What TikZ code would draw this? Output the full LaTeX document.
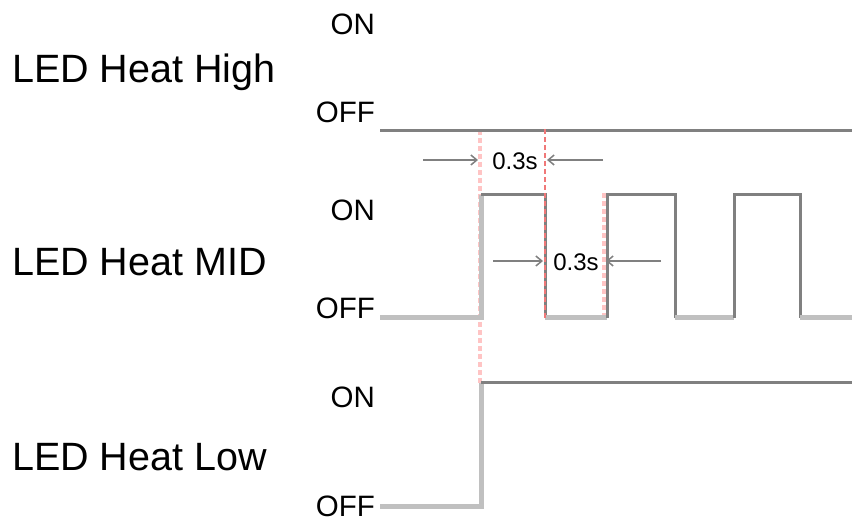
\documentclass[tikz,border=0pt]{standalone}
\usepackage{fontspec}
\setmainfont{Liberation Sans}
\usetikzlibrary{arrows.meta}
\definecolor{sigdark}{HTML}{808080}
\definecolor{siglight}{HTML}{C0C0C0}
\definecolor{pinkdash}{HTML}{FFC4C4}
\definecolor{reddash}{HTML}{F07878}
\begin{document}
\begin{tikzpicture}[x=1pt,y=-1pt,
  biglabel/.style={anchor=base west,inner sep=0pt,font=\fontsize{39.5}{39.5}\selectfont},
  statelabel/.style={anchor=base east,inner sep=0pt,font=\fontsize{29.5}{29.5}\selectfont},
  timelabel/.style={inner sep=0pt,font=\fontsize{24}{24}\selectfont},
  onl/.style={draw=sigdark,line width=3pt,line join=miter},
  offl/.style={draw=siglight,line width=5pt,line join=miter},
  pinkline/.style={draw=pinkdash,line width=3.5pt,dash pattern=on 5pt off 3pt},
  redline/.style={draw=reddash,line width=2pt,dash pattern=on 5pt off 3pt},
  dimarrow/.style={draw=sigdark,line width=2pt,-{Straight Barb[length=6pt,width=10pt,line width=1.5pt]}}]
\useasboundingbox (0,0) rectangle (852,521);
% labels
\node[biglabel] (lh) at (12,83) {LED Heat High};
\node[biglabel] (lm) at (12,276) {LED Heat MID};
\node[biglabel] (ll) at (12,471) {LED Heat Low};
\node[statelabel] (hon) at (375,35) {ON};
\node[statelabel] (hoff) at (375,123) {OFF};
\node[statelabel] (mon) at (375,221) {ON};
\node[statelabel] (moff) at (375,319) {OFF};
\node[statelabel] (lon) at (375,407) {ON};
\node[statelabel] (loff) at (375,516) {OFF};
% coordinates
\coordinate (a1) at (480,130);
\coordinate (a2) at (480,383);
\coordinate (c1) at (604,193);
\coordinate (c2) at (604,320);
\coordinate (b1) at (545,129);
\coordinate (b2) at (545,320);
% pink dashed guides
\draw[pinkline] (a1) -- (a2);
\draw[pinkline] (c1) -- (c2);
% High
\draw[onl] (380,131) -- (852,131);
% MID
\draw[offl] (380,318) -- (481,318) -- (481,195);
\draw[onl] (481,195) -- (545,195) -- (545,318);
\draw[offl] (545,318) -- (607,318);
\draw[onl] (607,318) -- (607,195) -- (675,195) -- (675,318);
\draw[offl] (675,318) -- (734,318);
\draw[onl] (734,318) -- (734,195) -- (800,195) -- (800,318);
\draw[offl] (800,318) -- (852,318);
% Low
\draw[offl] (380,506) -- (481,506) -- (481,383);
\draw[onl] (481,383) -- (852,383);
% red dashed guide
\draw[redline] (b1) -- (b2);
% timing annotations
\node[timelabel] (t1) at (515,161) {0.3s};
\node[timelabel] (t2) at (576,262) {0.3s};
\coordinate (p1) at (423,160);
\coordinate (p2) at (478,160);
\coordinate (p3) at (603,160);
\coordinate (p4) at (547,160);
\coordinate (q1) at (493,261);
\coordinate (q2) at (543,261);
\coordinate (q3) at (661,261);
\coordinate (q4) at (606,261);
\draw[dimarrow] (p1) -- (p2);
\draw[dimarrow] (p3) -- (p4);
\draw[dimarrow] (q1) -- (q2);
\draw[dimarrow] (q3) -- (q4);
\end{tikzpicture}
\end{document}
